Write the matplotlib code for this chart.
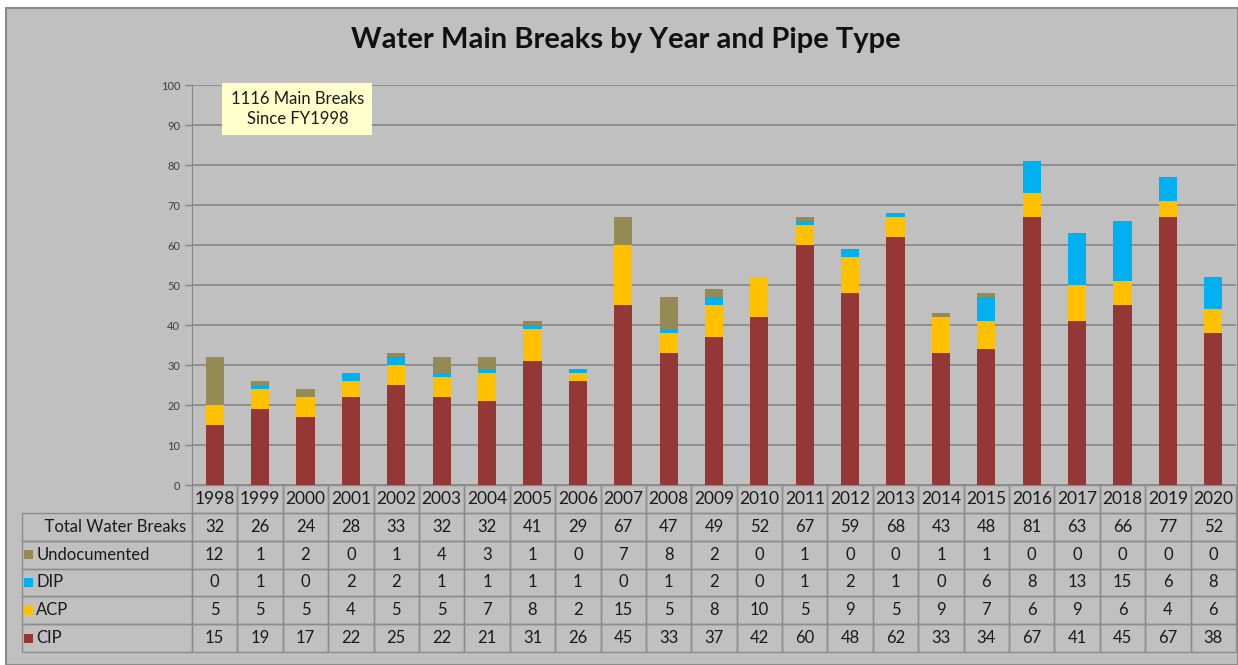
import numpy as np
import matplotlib
matplotlib.use('Agg')
import matplotlib.pyplot as plt
from matplotlib.patches import Rectangle

plt.rcParams['font.family'] = ['Lato', 'DejaVu Sans']

# 数据
years = [str(y) for y in range(1998, 2021)]
cip = [15, 19, 17, 22, 25, 22, 21, 31, 26, 45, 33, 37, 42, 60, 48, 62, 33, 34, 67, 41, 45, 67, 38]
acp = [5, 5, 5, 4, 5, 5, 7, 8, 2, 15, 5, 8, 10, 5, 9, 5, 9, 7, 6, 9, 6, 4, 6]
dip = [0, 1, 0, 2, 2, 1, 1, 1, 1, 0, 1, 2, 0, 1, 2, 1, 0, 6, 8, 13, 15, 6, 8]
undoc = [12, 1, 2, 0, 1, 4, 3, 1, 0, 7, 8, 2, 0, 1, 0, 0, 1, 1, 0, 0, 0, 0, 0]
total = [32, 26, 24, 28, 33, 32, 32, 41, 29, 67, 47, 49, 52, 67, 59, 68, 43, 48, 81, 63, 66, 77, 52]

series_names = ['Undocumented', 'DIP', 'ACP', 'CIP']
colors = {'CIP': '#953735', 'ACP': '#FFC000', 'DIP': '#00B0F0', 'Undocumented': '#948A54'}

W, H = 1238, 665
bg = '#c0c0c0'
fig = plt.figure(figsize=(W / 100, H / 100), dpi=100, facecolor='white')
# 灰色背景框
fig.patches.append(Rectangle((6 / W, 0), 1 - 6 / W, 1 - 8 / H, transform=fig.transFigure,
                             facecolor=bg, edgecolor='#8a8a8a', linewidth=1.5, zorder=-10))

ax_l, ax_r, ax_t, ax_b = 192, 1236, 85, 485
ax = fig.add_axes([ax_l / W, 1 - ax_b / H, (ax_r - ax_l) / W, (ax_b - ax_t) / H])
ax.set_facecolor(bg)
ax.patch.set_alpha(0)

x = np.arange(len(years))
bw = 0.40
bottom = np.zeros(len(years))
for name, vals in [('CIP', cip), ('ACP', acp), ('DIP', dip), ('Undocumented', undoc)]:
    ax.bar(x, vals, bw, bottom=bottom, color=colors[name], zorder=3)
    bottom += np.array(vals)

ax.set_xlim(-0.5, len(years) - 0.5)
ax.set_ylim(0, 100)
ax.set_yticks(range(0, 101, 10))
ax.yaxis.grid(True, color='#868686', linewidth=1.2, zorder=0)
ax.set_xticks([])
for s in ['top', 'right', 'bottom']:
    ax.spines[s].set_visible(False)
ax.spines['left'].set_color('#868686')
ax.tick_params(axis='y', colors='#868686', labelcolor='#404040', labelsize=8, length=5, width=1)

# 注释框
ax.text(0.101, 0.94, '1116 Main Breaks\nSince FY1998', transform=ax.transAxes,
        ha='center', va='center', fontsize=12, color='#1a1a1a', linespacing=1.3,
        bbox=dict(boxstyle='square,pad=0.5', facecolor='#FFFFCC', edgecolor='none'), zorder=5)

# 标题
fig.text(626 / W, 1 - 40 / H, 'Water Main Breaks by Year and Pipe Type', ha='center', va='center',
         fontsize=21, fontweight='bold', color='#111111')

# 数据表
rows = [[''] + years,
        ['  Total Water Breaks'] + [str(v) for v in total],
        ['Undocumented'] + [str(v) for v in undoc],
        ['DIP'] + [str(v) for v in dip],
        ['ACP'] + [str(v) for v in acp],
        ['CIP'] + [str(v) for v in cip]]
tab_l, tab_b = 22, 652
axw, axh = ax_r - ax_l, ax_b - ax_t
label_w = ax_l - tab_l
col_w = axw / len(years)
tbl = ax.table(cellText=rows, colWidths=[label_w] + [col_w] * len(years), cellLoc='center',
               bbox=[(tab_l - ax_l) / axw, -(tab_b - ax_b) / axh, (ax_r - tab_l) / axw, (tab_b - ax_b) / axh])
tbl.auto_set_font_size(False)
tbl.set_fontsize(12)
for (r, c), cell in tbl.get_celld().items():
    cell.set_facecolor('none')
    cell.set_edgecolor('#8c8c8c')
    cell.set_linewidth(1.0)
    cell.get_text().set_color('#1a1a1a')
    if c == 0:
        cell._loc = 'left'
        cell.PAD = 0.085
        cell.get_text().set_ha('left')
    if r == 0 and c == 0:
        cell.visible_edges = ''
    if r == 0:
        cell.get_text().set_fontsize(12.5)

# 图例小方块
row_h = (tab_b - ax_b) / 6
for i, name in enumerate(series_names):
    cy = ax_b + row_h * (i + 2.5)
    fig.patches.append(Rectangle((24 / W, 1 - (cy + 4.5) / H), 9 / W, 9 / H, transform=fig.transFigure,
                                 facecolor=colors[name], edgecolor='none'))

fig.savefig('out.png', dpi=100, facecolor=fig.get_facecolor())
